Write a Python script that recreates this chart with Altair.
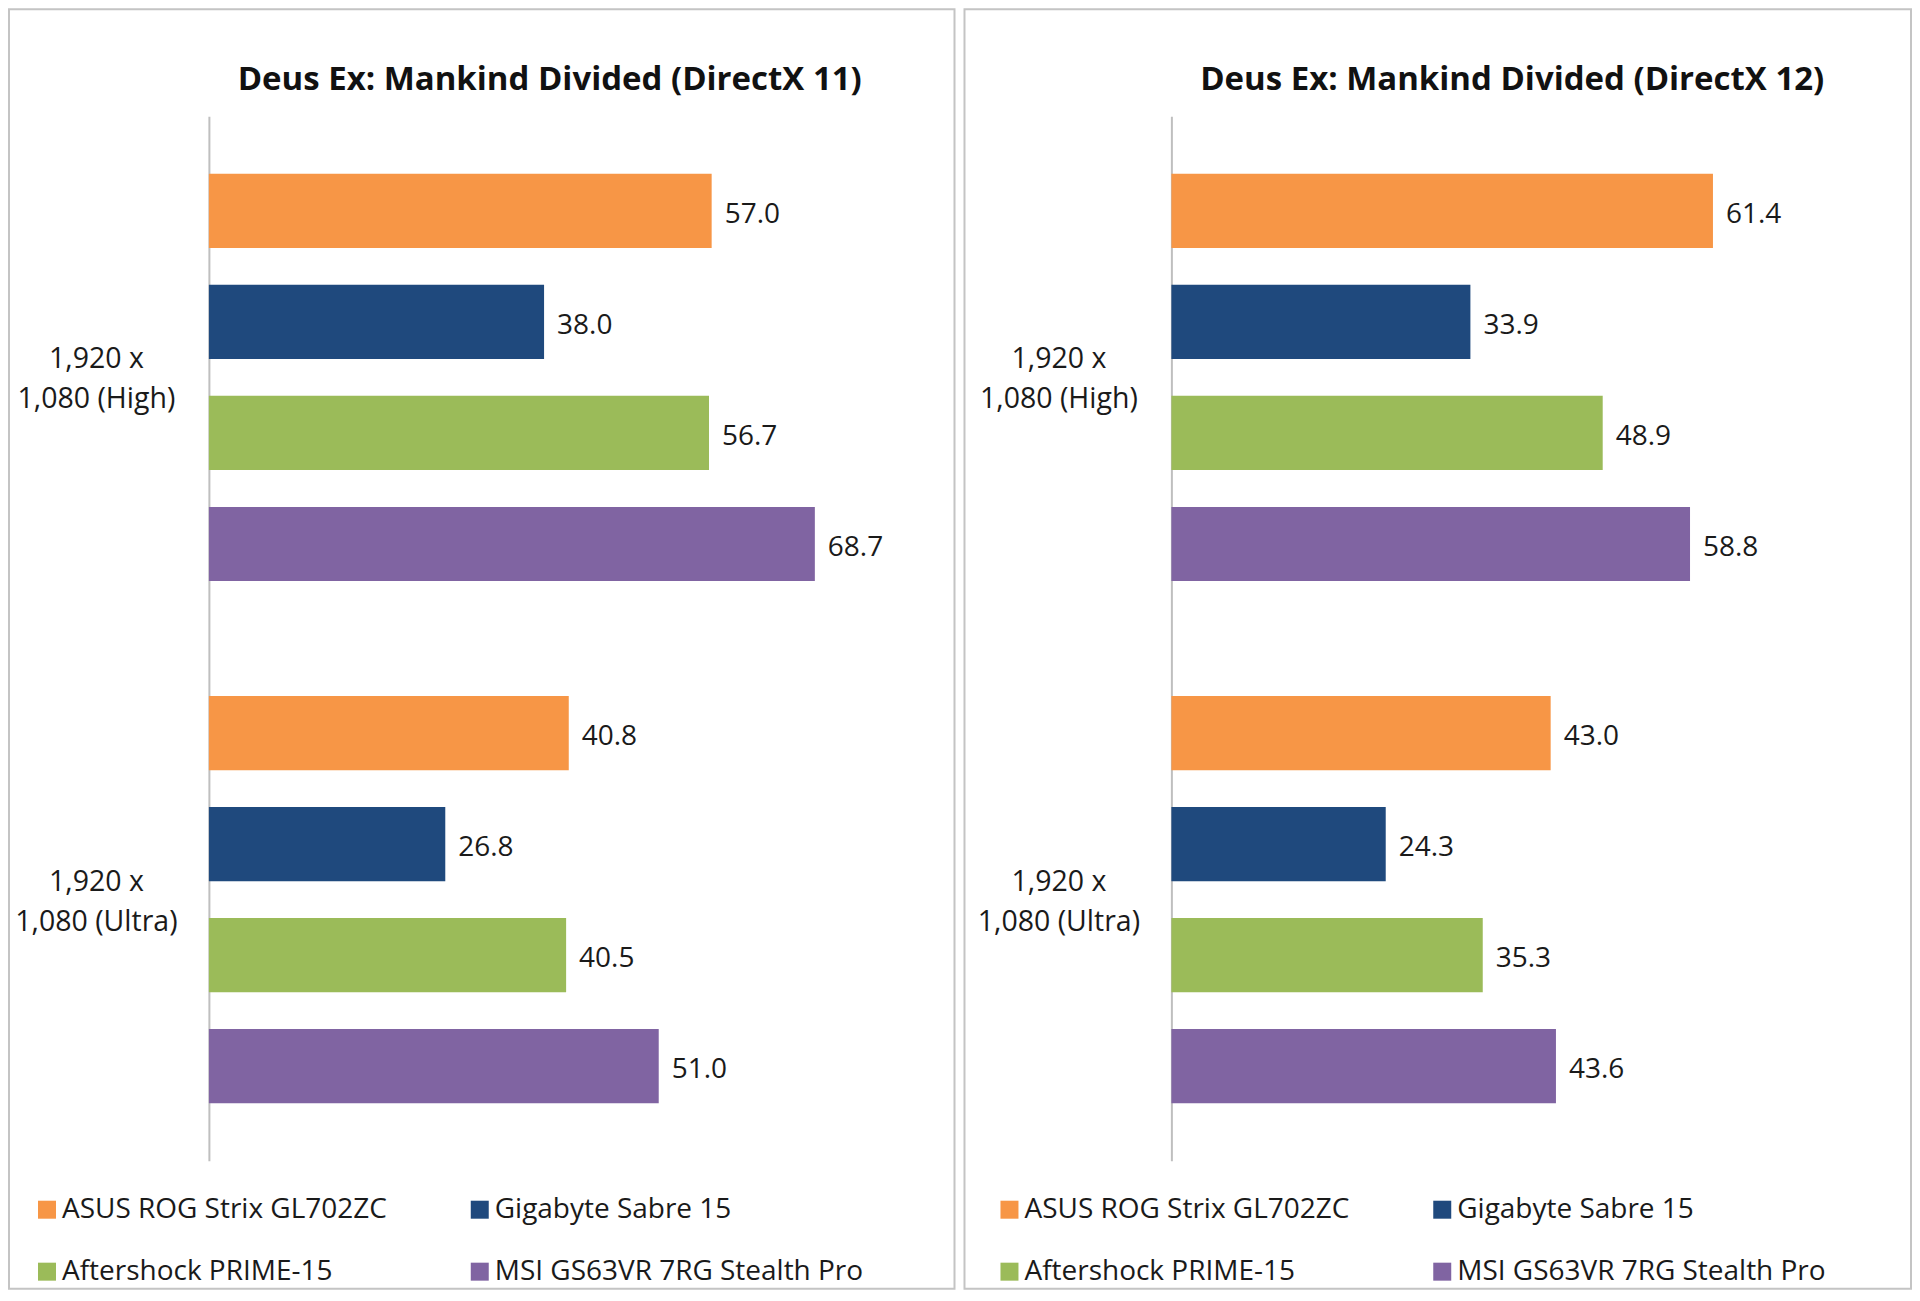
import altair as alt
import pandas as pd

categories = ["1,920 x|1,080 (High)", "1,920 x|1,080 (Ultra)"]
series = ["ASUS ROG Strix GL702ZC", "Gigabyte Sabre 15", "Aftershock PRIME-15", "MSI GS63VR 7RG Stealth Pro"]
colors = ["#F79646", "#1F497D", "#9BBB59", "#8064A2"]

dx11_high = [57.0, 38.0, 56.7, 68.7]
dx11_ultra = [40.8, 26.8, 40.5, 51.0]
dx12_high = [61.4, 33.9, 48.9, 58.8]
dx12_ultra = [43.0, 24.3, 35.3, 43.6]

titles = ["Deus Ex: Mankind Divided (DirectX 11)", "Deus Ex: Mankind Divided (DirectX 12)"]

FONT = "Open Sans"
TXT = "#1a1a1a"
W, H = 706, 1045


def panel(title, high, ultra, bx0, bx1):
    rows = []
    for c, vals in zip(categories, [high, ultra]):
        for s, v in zip(series, vals):
            rows.append({"cat": c, "series": s, "value": v})
    df = pd.DataFrame(rows)

    one = pd.DataFrame({"t": [title]})
    border = alt.Chart(one).mark_rect(
        fill="#ffffff", fillOpacity=0, stroke="#c4c4c4", strokeWidth=2
    ).encode(
        x=alt.value(bx0), x2=alt.value(bx1), y=alt.value(-107), y2=alt.value(1173)
    )
    title_mark = alt.Chart(one).mark_text(
        font=FONT, fontSize=33, fontWeight="bold", color="#111111",
        align="center", baseline="middle",
    ).encode(x=alt.value(341), y=alt.value(-36), text="t:N")

    base = alt.Chart(df).encode(
        y=alt.Y(
            "cat:N",
            sort=categories,
            scale=alt.Scale(paddingInner=0.22, paddingOuter=0.11),
            axis=alt.Axis(
                title=None,
                labelExpr="split(datum.label, '|')",
                labelAlign="center",
                labelBaseline="middle",
                labelPadding=113,
                labelOffset=-18,
                ticks=False,
                tickSize=0,
                domainColor="#bfbfbf",
                domainWidth=2,
                labelFont=FONT,
                labelFontSize=28.5,
                labelColor=TXT,
                labelLineHeight=40,
                labelLimit=400,
            ),
        ),
        yOffset=alt.YOffset(
            "series:N", sort=series, scale=alt.Scale(paddingInner=0.332, paddingOuter=0)
        ),
    )

    bars = base.mark_bar().encode(
        x=alt.X("value:Q", scale=alt.Scale(domain=[0, 80]), axis=None),
        color=alt.Color(
            "series:N",
            sort=series,
            scale=alt.Scale(domain=series, range=colors),
            legend=alt.Legend(
                orient="none",
                direction="horizontal",
                legendX=-176,
                legendY=1080,
                columns=2,
                title=None,
                symbolType="square",
                symbolSize=324,
                symbolStrokeWidth=0,
                labelFont=FONT,
                labelFontSize=28,
                labelColor=TXT,
                labelOffset=1,
                columnPadding=78,
                rowPadding=34,
                labelLimit=0,
                padding=0,
            ),
        ),
    )

    labels = base.mark_text(
        align="left", baseline="middle", dx=13, dy=4, font=FONT, fontSize=28, color=TXT
    ).encode(
        x=alt.X("value:Q", scale=alt.Scale(domain=[0, 80]), axis=None),
        text=alt.Text("value:Q", format=".1f"),
    )

    return alt.layer(border, title_mark, bars, labels).properties(width=W, height=H)


left = panel(titles[0], dx11_high, dx11_ultra, -200, 746)
right = panel(titles[1], dx12_high, dx12_ultra, -207, 740)

chart = (
    alt.hconcat(left, right, spacing=8)
    .resolve_scale(color="independent")
    .properties(padding=0, background="white")
    .configure_view(stroke=None)
)

chart.save("out.html", embed_options={"renderer": "svg", "actions": False})
